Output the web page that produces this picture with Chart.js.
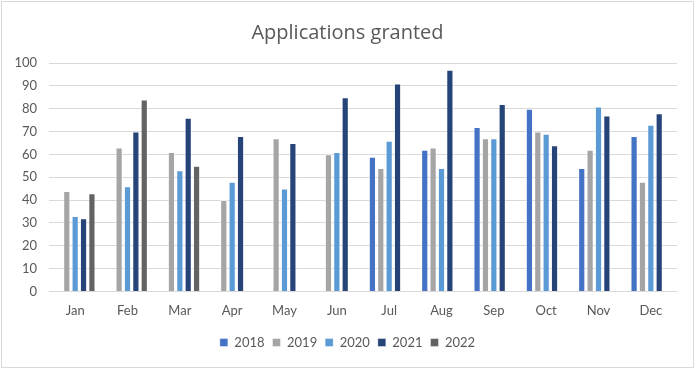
<!DOCTYPE html>
<html>
<head>
<meta charset="utf-8">
<script src="https://cdn.jsdelivr.net/npm/chart.js@4/dist/chart.umd.min.js"></script>
<style>
html,body{margin:0;padding:0;background:#fff;}
#wrap{position:relative;width:695px;height:369px;}
</style>
</head>
<body>
<div id="wrap"><canvas id="c" width="695" height="369"></canvas></div>
<script>
const months = ["Jan","Feb","Mar","Apr","May","Jun","Jul","Aug","Sep","Oct","Nov","Dec"];
const years = ["2018","2019","2020","2021","2022"];
const v2018 = [null,null,null,null,null,null,59,62,72,80,54,68];
const v2019 = [44,63,61,40,67,60,54,63,67,70,62,48];
const v2020 = [33,46,53,48,45,61,66,54,67,69,81,73];
const v2021 = [32,70,76,68,65,85,91,97,82,64,77,78];
const v2022 = [43,84,55,null,null,null,null,null,null,null,null,null];
const yTicks = [0,10,20,30,40,50,60,70,80,90,100];
const colors = ["#4472C4","#A5A5A5","#5B9BD5","#264478","#636363"];
const series = [v2018,v2019,v2020,v2021,v2022];

const frame = {
  id:'frame',
  beforeDraw(chart){
    const ctx = chart.ctx;
    ctx.save();
    ctx.fillStyle = '#fff';
    ctx.fillRect(0,0,chart.width,chart.height);
    ctx.strokeStyle = '#d9d9d9';
    ctx.lineWidth = 1;
    ctx.strokeRect(1.5,1.5,chart.width-3,chart.height-3);
    ctx.restore();
  },
  afterLayout(chart){
    const dx = 9;
    if (chart.titleBlock){ chart.titleBlock.left += dx; chart.titleBlock.right += dx; }
    if (chart.legend){ chart.legend.left += dx; chart.legend.right += dx; }
  }
};

new Chart(document.getElementById('c'), {
  type:'bar',
  data:{
    labels:months,
    datasets: years.map((y,i)=>({
      label:y,
      data:series[i],
      backgroundColor:colors[i],
      borderColor:'rgba(255,255,255,0.55)',
      borderWidth:{left:1,right:1,top:1,bottom:0},
      barPercentage:0.86,
      categoryPercentage:0.8
    }))
  },
  options:{
    responsive:false,
    animation:false,
    layout:{padding:{left:0,right:18,top:17,bottom:10}},
    plugins:{
      title:{display:true,text:'Applications granted',color:'#595959',
        font:{family:'"Open Sans", Lato, sans-serif',size:20,weight:'400'},
        padding:{top:4,bottom:18}},
      legend:{position:'bottom',
        labels:{boxWidth:8,boxHeight:8,color:'#595959',padding:8,
          font:{family:'Lato, "Open Sans", sans-serif',size:13}}},
      tooltip:{enabled:false}
    },
    scales:{
      x:{
        grid:{display:false},
        border:{color:'#d9d9d9'},
        afterFit(scale){scale.height += 5;},
        ticks:{color:'#595959',padding:4,font:{family:'Lato, "Open Sans", sans-serif',size:13}}
      },
      y:{
        min:0,max:100,
        afterBuildTicks(scale){scale.ticks = yTicks.map(v=>({value:v}));},
        afterFit(scale){scale.width = 49;},
        grid:{color:'#d9d9d9',drawTicks:false},
        border:{display:false},
        ticks:{color:'#595959',padding:12,font:{family:'Lato, "Open Sans", sans-serif',size:13}}
      }
    }
  },
  plugins:[frame]
});
</script>
</body>
</html>
